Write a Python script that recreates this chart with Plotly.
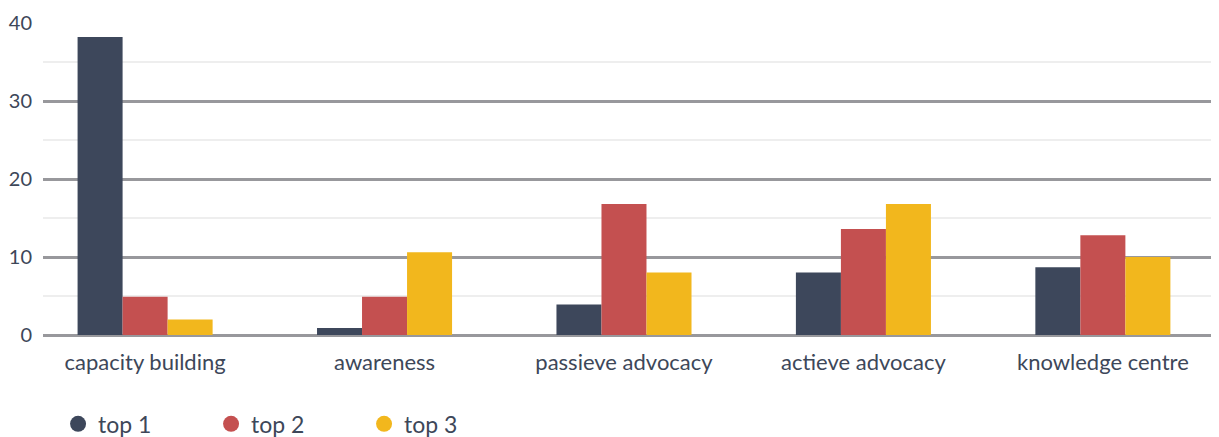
import plotly.graph_objects as go

categories = ["capacity building", "awareness", "passieve advocacy", "actieve advocacy", "knowledge centre"]
series_names = ["top 1", "top 2", "top 3"]
top1 = [38.2, 0.9, 3.9, 8.0, 8.7]
top2 = [4.9, 4.9, 16.8, 13.6, 12.8]
top3 = [2.0, 10.6, 8.0, 16.8, 10.0]
y_ticks = [0, 10, 20, 30, 40]

colors = ["#3d475b", "#c45050", "#f2b71d"]
text_color = "#3d4759"
font_family = "Lato, 'Source Sans Pro', sans-serif"

fig = go.Figure()
for name, vals, col in zip(series_names, [top1, top2, top3], colors):
    fig.add_trace(go.Bar(x=categories, y=vals, name=name, marker=dict(color=col, line=dict(width=0)),
                         showlegend=False))
for name, col in zip(series_names, colors):
    fig.add_trace(go.Scatter(x=[None], y=[None], mode="markers", name=name,
                             marker=dict(color=col, size=18, symbol="circle")))

fig.update_layout(
    width=1211, height=429,
    margin=dict(l=35, r=0, t=15, b=102, autoexpand=False),
    paper_bgcolor="white", plot_bgcolor="white",
    barmode="group", bargap=0.436, bargroupgap=0,
    font=dict(family=font_family, size=22, color=text_color),
    legend=dict(orientation="h", x=0.0128, xanchor="left", y=-0.285, yanchor="middle",
                font=dict(size=23, color=text_color), entrywidth=108, entrywidthmode="pixels",
                itemclick=False),
)
fig.update_xaxes(type="category", range=[-0.4264, 4.485], showgrid=False, showline=False,
                 ticks="", ticklabelstandoff=12, tickfont=dict(size=22, color=text_color))
fig.update_yaxes(range=[0, 40], tickvals=y_ticks, showgrid=True, gridcolor="#98989c", gridwidth=2.5,
                 zeroline=True, zerolinecolor="#98989c", zerolinewidth=3,
                 minor=dict(dtick=5, showgrid=True, gridcolor="#eeeeee", gridwidth=2),
                 ticks="", ticklabelstandoff=10, tickfont=dict(size=20, color=text_color))

fig.write_html("out.html")
